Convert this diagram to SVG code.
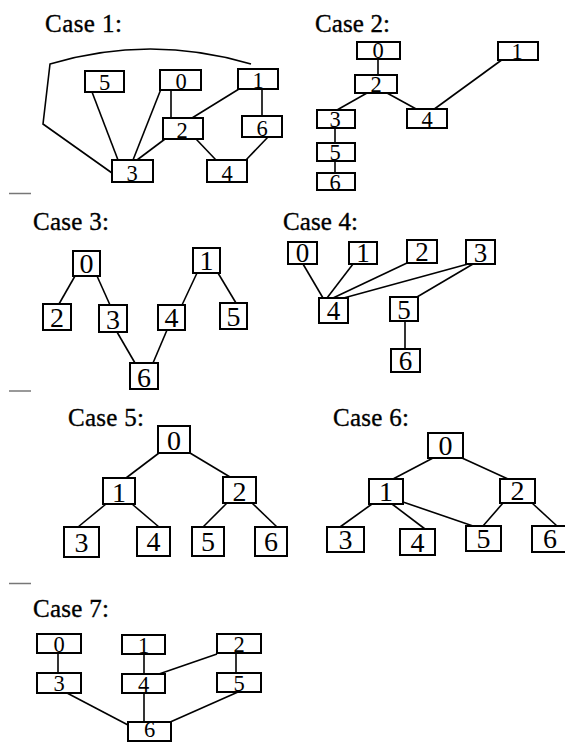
<svg xmlns="http://www.w3.org/2000/svg" width="565" height="742" viewBox="0 0 565 742">
<style>
.t{font-family:"Liberation Serif","DejaVu Serif",serif;font-size:25px;fill:#000;stroke:#000;stroke-width:0.35}
.b rect{fill:#fff;stroke:#000;stroke-width:2}
.d{font-family:"Liberation Serif","DejaVu Serif",serif;text-anchor:middle;fill:#000}
.s{font-size:22.5px}
.m{font-size:27px}
.l{font-size:28px}
.e line,.e path{stroke:#000;stroke-width:1.6;fill:none}
.sep{stroke:#777;stroke-width:1.5}
</style>
<rect width="565" height="742" fill="#fff"/>
<g id="separators">
<line class="sep" x1="9" y1="193.5" x2="31" y2="193.5"/>
<line class="sep" x1="9" y1="391" x2="31" y2="391"/>
<line class="sep" x1="9" y1="583.5" x2="31" y2="583.5"/>
</g>
<g id="titles">
<text class="t" x="45" y="32" textLength="77">Case 1:</text>
<text class="t" x="315" y="32" textLength="75">Case 2:</text>
<text class="t" x="33" y="230" textLength="76">Case 3:</text>
<text class="t" x="283" y="230" textLength="75">Case 4:</text>
<text class="t" x="68" y="426" textLength="76">Case 5:</text>
<text class="t" x="333" y="426" textLength="76">Case 6:</text>
<text class="t" x="33" y="617" textLength="76">Case 7:</text>
</g>
<g id="connectors" class="e">
<path d="M112,173 L43,124 L50,64 Q150,34 251,64"/>
<line x1="92" y1="92" x2="118" y2="160"/>
<line x1="161" y1="89" x2="133" y2="160"/>
<line x1="171" y1="90" x2="171" y2="118"/>
<line x1="239" y1="89" x2="192" y2="118"/>
<line x1="262" y1="89" x2="262" y2="116"/>
<line x1="165" y1="139" x2="137" y2="160"/>
<line x1="196" y1="139" x2="216" y2="160"/>
<line x1="268" y1="137" x2="245" y2="161"/>
<line x1="378" y1="59" x2="378" y2="75"/>
<line x1="367" y1="93" x2="337" y2="110"/>
<line x1="387" y1="93" x2="418" y2="110"/>
<line x1="503" y1="59" x2="433" y2="110"/>
<line x1="335" y1="128" x2="335" y2="143"/>
<line x1="335" y1="161" x2="335" y2="173"/>
<line x1="75" y1="276" x2="59" y2="304"/>
<line x1="97" y1="276" x2="110" y2="305"/>
<line x1="117" y1="332" x2="135" y2="363"/>
<line x1="167" y1="330" x2="153" y2="363"/>
<line x1="197" y1="273" x2="182" y2="305"/>
<line x1="218" y1="273" x2="236" y2="303"/>
<line x1="303" y1="264" x2="323" y2="298"/>
<line x1="353" y1="264" x2="327" y2="298"/>
<line x1="407" y1="263" x2="333" y2="298"/>
<line x1="468" y1="264" x2="340" y2="299"/>
<line x1="473" y1="264" x2="417" y2="297"/>
<line x1="405" y1="321" x2="405" y2="349"/>
<line x1="159" y1="453" x2="126" y2="478"/>
<line x1="190" y1="453" x2="230" y2="477"/>
<line x1="106" y1="504" x2="78" y2="527"/>
<line x1="132" y1="504" x2="159" y2="527"/>
<line x1="227" y1="503" x2="203" y2="527"/>
<line x1="252" y1="503" x2="277" y2="527"/>
<line x1="433" y1="458" x2="393" y2="479"/>
<line x1="462" y1="458" x2="508" y2="479"/>
<line x1="372" y1="504" x2="340" y2="527"/>
<line x1="392" y1="504" x2="425" y2="529"/>
<line x1="403" y1="502" x2="473" y2="526"/>
<line x1="503" y1="503" x2="483" y2="526"/>
<line x1="532" y1="503" x2="557" y2="526"/>
<line x1="58" y1="653" x2="58" y2="673"/>
<line x1="144" y1="654" x2="144" y2="674"/>
<line x1="217" y1="654" x2="159" y2="674"/>
<line x1="236" y1="653" x2="236" y2="673"/>
<line x1="67" y1="693" x2="128" y2="725"/>
<line x1="144" y1="693" x2="144" y2="722"/>
<line x1="238" y1="692" x2="168" y2="723"/>
</g>
<g id="c1n5" class="b"><rect x="85" y="71" width="39" height="21"/><text class="d s" x="104.5" y="89.5">5</text></g>
<g id="c1n0" class="b"><rect x="160" y="70" width="41" height="20"/><text class="d s" x="181" y="88.5">0</text></g>
<g id="c1n1" class="b"><rect x="238" y="69" width="40" height="20"/><text class="d s" x="258" y="87.5">1</text></g>
<g id="c1n2" class="b"><rect x="163" y="118" width="40" height="21"/><text class="d s" x="182" y="137.5">2</text></g>
<g id="c1n6" class="b"><rect x="242" y="116" width="40" height="21"/><text class="d s" x="262" y="135.5">6</text></g>
<g id="c1n3" class="b"><rect x="112" y="160" width="41" height="22"/><text class="d s" x="132" y="180.5">3</text></g>
<g id="c1n4" class="b"><rect x="207" y="160" width="40" height="22"/><text class="d s" x="227" y="180.5">4</text></g>
<g id="c2n0" class="b"><rect x="357" y="42" width="43" height="17"/><text class="d s" x="378" y="58">0</text></g>
<g id="c2n1" class="b"><rect x="498" y="42" width="40" height="18"/><text class="d s" x="517" y="58.5">1</text></g>
<g id="c2n2" class="b"><rect x="355" y="75" width="42" height="18"/><text class="d s" x="376" y="92">2</text></g>
<g id="c2n3" class="b"><rect x="317" y="110" width="38" height="18"/><text class="d s" x="335" y="127">3</text></g>
<g id="c2n4" class="b"><rect x="407" y="109" width="40" height="19"/><text class="d s" x="427" y="127">4</text></g>
<g id="c2n5" class="b"><rect x="317" y="143" width="38" height="18"/><text class="d s" x="335" y="160">5</text></g>
<g id="c2n6" class="b"><rect x="317" y="173" width="38" height="17"/><text class="d s" x="335" y="189.5">6</text></g>
<g id="c3n0" class="b"><rect x="73" y="251" width="27" height="25"/><text class="d l" x="86.5" y="273">0</text></g>
<g id="c3n1" class="b"><rect x="193" y="248" width="27" height="25"/><text class="d l" x="206.5" y="270">1</text></g>
<g id="c3n2" class="b"><rect x="43" y="304" width="28" height="26"/><text class="d l" x="57" y="327">2</text></g>
<g id="c3n3" class="b"><rect x="99" y="305" width="28" height="27"/><text class="d l" x="113" y="329">3</text></g>
<g id="c3n4" class="b"><rect x="158" y="305" width="27" height="25"/><text class="d l" x="171.5" y="327">4</text></g>
<g id="c3n5" class="b"><rect x="220" y="303" width="27" height="26"/><text class="d l" x="233.5" y="326">5</text></g>
<g id="c3n6" class="b"><rect x="130" y="363" width="28" height="26"/><text class="d l" x="144" y="387">6</text></g>
<g id="c4n0" class="b"><rect x="288" y="242" width="29" height="22"/><text class="d m" x="302.5" y="262">0</text></g>
<g id="c4n1" class="b"><rect x="349" y="242" width="28" height="22"/><text class="d m" x="363" y="262">1</text></g>
<g id="c4n2" class="b"><rect x="407" y="240" width="30" height="23"/><text class="d m" x="422" y="261">2</text></g>
<g id="c4n3" class="b"><rect x="466" y="240" width="29" height="24"/><text class="d m" x="480.5" y="262">3</text></g>
<g id="c4n4" class="b"><rect x="319" y="298" width="29" height="25"/><text class="d m" x="333.5" y="320">4</text></g>
<g id="c4n5" class="b"><rect x="390" y="297" width="28" height="24"/><text class="d m" x="404" y="319">5</text></g>
<g id="c4n6" class="b"><rect x="391" y="349" width="29" height="23"/><text class="d m" x="405.5" y="370">6</text></g>
<g id="c5n0" class="b"><rect x="158" y="426" width="32" height="27"/><text class="d l" x="174" y="450">0</text></g>
<g id="c5n1" class="b"><rect x="103" y="478" width="32" height="26"/><text class="d l" x="119" y="502">1</text></g>
<g id="c5n2" class="b"><rect x="223" y="477" width="33" height="26"/><text class="d l" x="239.5" y="501">2</text></g>
<g id="c5n3" class="b"><rect x="64" y="527" width="35" height="30"/><text class="d l" x="81.5" y="552">3</text></g>
<g id="c5n4" class="b"><rect x="137" y="527" width="33" height="29"/><text class="d l" x="153.5" y="551">4</text></g>
<g id="c5n5" class="b"><rect x="192" y="527" width="32" height="29"/><text class="d l" x="208" y="551">5</text></g>
<g id="c5n6" class="b"><rect x="255" y="527" width="32" height="29"/><text class="d l" x="271" y="551">6</text></g>
<g id="c6n0" class="b"><rect x="428" y="433" width="35" height="25"/><text class="d l" x="445.5" y="455">0</text></g>
<g id="c6n1" class="b"><rect x="369" y="479" width="34" height="25"/><text class="d l" x="386" y="501">1</text></g>
<g id="c6n2" class="b"><rect x="500" y="479" width="35" height="24"/><text class="d l" x="517.5" y="500">2</text></g>
<g id="c6n3" class="b"><rect x="327" y="527" width="37" height="25"/><text class="d l" x="345.5" y="549">3</text></g>
<g id="c6n4" class="b"><rect x="400" y="529" width="35" height="26"/><text class="d l" x="417.5" y="552">4</text></g>
<g id="c6n5" class="b"><rect x="466" y="526" width="35" height="25"/><text class="d l" x="483.5" y="548">5</text></g>
<g id="c6n6" class="b"><rect x="532" y="526" width="40" height="26"/><text class="d l" x="550" y="548">6</text></g>
<g id="c7n0" class="b"><rect x="37" y="634" width="44" height="19"/><text class="d s" x="59" y="652">0</text></g>
<g id="c7n1" class="b"><rect x="122" y="635" width="43" height="19"/><text class="d s" x="143.5" y="653">1</text></g>
<g id="c7n2" class="b"><rect x="217" y="634" width="44" height="19"/><text class="d s" x="239" y="652">2</text></g>
<g id="c7n3" class="b"><rect x="37" y="673" width="44" height="20"/><text class="d s" x="59" y="691">3</text></g>
<g id="c7n4" class="b"><rect x="122" y="674" width="43" height="19"/><text class="d s" x="143.5" y="692">4</text></g>
<g id="c7n5" class="b"><rect x="217" y="673" width="44" height="19"/><text class="d s" x="239" y="691">5</text></g>
<g id="c7n6" class="b"><rect x="128" y="722" width="43" height="19"/><text class="d s" x="149.5" y="736.5" font-size="21">6</text></g>
</svg>
